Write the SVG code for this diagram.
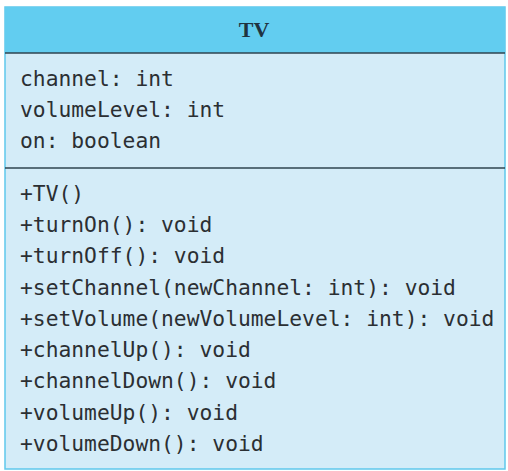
<svg xmlns="http://www.w3.org/2000/svg" width="508" height="471" viewBox="0 0 508 471">
<style>
.m{font-family:"DejaVu Sans Mono","Liberation Mono",monospace;font-size:21.3px;fill:#2b2f33}
.t{font-family:"Liberation Serif",serif;font-size:22px;font-weight:bold;fill:#1f3340}
.sep{stroke:#2f4450;stroke-width:1.6}
</style>
<rect width="508" height="471" fill="#ffffff"/>
<g id="TV">
<rect x="5" y="7" width="500" height="462" fill="#d4ecf8" stroke="#5fc8ec" stroke-width="1.5"/>
<rect x="5" y="7" width="500" height="46" fill="#62cdf0"/>
<line class="sep" x1="5" y1="53" x2="505" y2="53"/>
<line class="sep" x1="5" y1="168" x2="505" y2="168"/>
<text class="t" x="254" y="37" text-anchor="middle">TV</text>
<text class="m" x="20" y="86">channel: int</text>
<text class="m" x="20" y="117">volumeLevel: int</text>
<text class="m" x="20" y="148">on: boolean</text>
<text class="m" x="20" y="201">+TV()</text>
<text class="m" x="20" y="232">+turnOn(): void</text>
<text class="m" x="20" y="263">+turnOff(): void</text>
<text class="m" x="20" y="295">+setChannel(newChannel: int): void</text>
<text class="m" x="20" y="326">+setVolume(newVolumeLevel: int): void</text>
<text class="m" x="20" y="357">+channelUp(): void</text>
<text class="m" x="20" y="388">+channelDown(): void</text>
<text class="m" x="20" y="420">+volumeUp(): void</text>
<text class="m" x="20" y="451">+volumeDown(): void</text>
</g>
</svg>
